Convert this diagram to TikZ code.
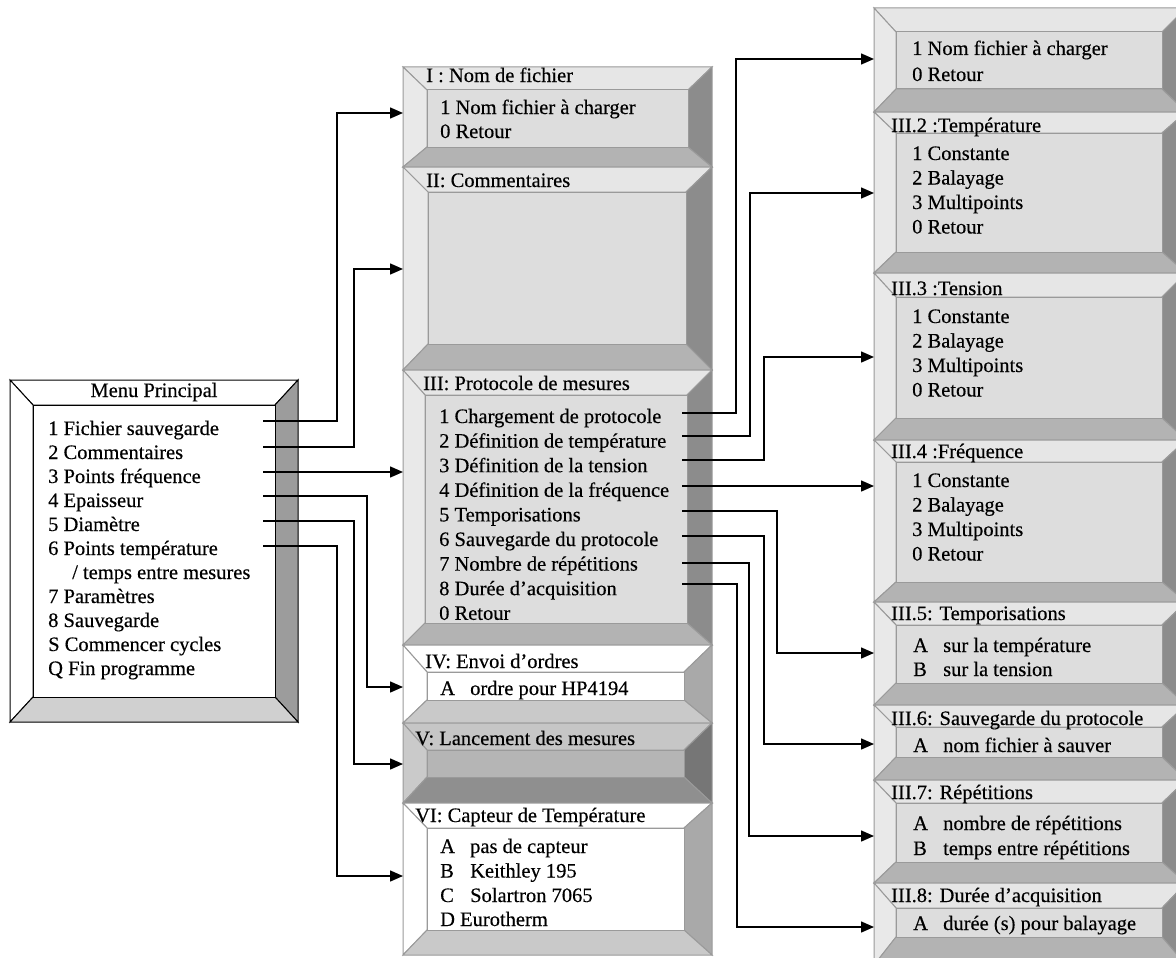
\documentclass[tikz,border=0pt]{standalone}
\usepackage{fontspec}
\setmainfont{Liberation Serif}[FakeBold=0.35]
\usetikzlibrary{arrows.meta}
\definecolor{gTop}{HTML}{E6E6E6}\definecolor{gLeft}{HTML}{E9E9E9}\definecolor{gIn}{HTML}{DDDDDD}
\definecolor{gRight}{HTML}{8C8C8C}\definecolor{gBot}{HTML}{B3B3B3}\definecolor{gLine}{HTML}{9A9A9A}
\definecolor{wTop}{HTML}{FFFFFF}\definecolor{wLeft}{HTML}{FFFFFF}\definecolor{wIn}{HTML}{FFFFFF}
\definecolor{wRight}{HTML}{A9A9A9}\definecolor{wBot}{HTML}{C9C9C9}\definecolor{wLine}{HTML}{9A9A9A}
\definecolor{dTop}{HTML}{C6C6C6}\definecolor{dLeft}{HTML}{CACACA}\definecolor{dIn}{HTML}{B5B5B5}
\definecolor{dRight}{HTML}{767676}\definecolor{dBot}{HTML}{8F8F8F}\definecolor{dLine}{HTML}{9A9A9A}
\definecolor{mTop}{HTML}{FFFFFF}\definecolor{mLeft}{HTML}{FFFFFF}\definecolor{mIn}{HTML}{FFFFFF}
\definecolor{mRight}{HTML}{9C9C9C}\definecolor{mBot}{HTML}{D0D0D0}\definecolor{mLine}{HTML}{000000}
% #1-#4 outer x1 y1 x2 y2, #5-#8 inner x1 y1 x2 y2, #9 colour set
\newcommand\bevbox[9]{%
  \filldraw[fill=#9Top,draw=#9Line,line width=1pt] (#1,#2)--(#3,#2)--(#7,#6)--(#5,#6)--cycle;
  \filldraw[fill=#9Left,draw=#9Line,line width=1pt] (#1,#2)--(#5,#6)--(#5,#8)--(#1,#4)--cycle;
  \filldraw[fill=#9Right,draw=#9Line,line width=1pt] (#3,#2)--(#3,#4)--(#7,#8)--(#7,#6)--cycle;
  \filldraw[fill=#9Bot,draw=#9Line,line width=1pt] (#1,#4)--(#5,#8)--(#7,#8)--(#3,#4)--cycle;
  \filldraw[fill=#9In,draw=#9Line,line width=1pt] (#5,#6) rectangle (#7,#8);
}
\newcommand\lab[1]{\makebox[30pt][l]{#1}}
\tikzset{
  txt/.style={font=\fontsize{20.5}{24}\selectfont, inner sep=0pt, anchor=base west, text=black},
  conn/.style={line width=1.5pt, -{Triangle[length=13pt,width=11pt]}},
}
\begin{document}
\begin{tikzpicture}[x=1pt,y=-1pt]
\clip (0,0) rectangle (1176,958);
\fill[white] (0,0) rectangle (1176,958);

% ---------- main menu ----------
\bevbox{10}{380}{298}{722}{33}{405}{275}{697}{m}
\node[txt, anchor=base] (mt) at (154,397) {Menu Principal};
\node[txt] (m1) at (48,435) {1 Fichier sauvegarde};
\node[txt] (m2) at (48,459) {2 Commentaires};
\node[txt] (m3) at (48,483) {3 Points fréquence};
\node[txt] (m4) at (48,507) {4 Epaisseur};
\node[txt] (m5) at (48,531) {5 Diamètre};
\node[txt] (m6) at (48,555) {6 Points température};
\node[txt] (m6b) at (72,579) {/ temps entre mesures};
\node[txt] (m7) at (48,603) {7 Paramètres};
\node[txt] (m8) at (48,627) {8 Sauvegarde};
\node[txt] (m9) at (48,651) {S Commencer cycles};
\node[txt] (m10) at (48,675) {Q Fin programme};

% ---------- column 2 ----------
\bevbox{403}{67}{712}{167}{427}{90}{688}{147}{g}
\node[txt] (It) at (426,82) {I : Nom de fichier};
\node[txt] (I1) at (440,114) {1 Nom fichier à charger};
\node[txt] (I2) at (440,138) {0 Retour};

\bevbox{403}{167}{712}{370}{428}{192}{686}{344}{g}
\node[txt] (IIt) at (426,187) {II: Commentaires};

\bevbox{403}{370}{712}{645}{425}{395}{687}{623}{g}
\node[txt] (IIIt) at (423,390) {III: Protocole de mesures};
\node[txt] (P1) at (439,423) {1 Chargement de protocole};
\node[txt] (P2) at (439,447.6) {2 Définition de température};
\node[txt] (P3) at (439,472.2) {3 Définition de la tension};
\node[txt] (P4) at (439,496.8) {4 Définition de la fréquence};
\node[txt] (P5) at (439,521.4) {5 Temporisations};
\node[txt] (P6) at (439,546) {6 Sauvegarde du protocole};
\node[txt] (P7) at (439,570.6) {7 Nombre de répétitions};
\node[txt] (P8) at (439,595.2) {8 Durée d’acquisition};
\node[txt] (P0) at (439,619.8) {0 Retour};

\bevbox{403}{645}{712}{723}{427}{672}{684}{700}{w}
\node[txt] (IVt) at (425,668) {IV: Envoi d’ordres};
\node[txt] (IV1) at (440,695) {\lab{A}ordre pour HP4194};

\bevbox{403}{723}{712}{803}{427}{750}{684}{777}{d}
\node[txt] (Vt) at (415,745) {V: Lancement des mesures};

\bevbox{403}{803}{712}{955}{427}{828}{684}{930}{w}
\node[txt] (VIt) at (415,822) {VI: Capteur de Température};
\node[txt] (VI1) at (440,853) {\lab{A}pas de capteur};
\node[txt] (VI2) at (440,877.5) {\lab{B}Keithley 195};
\node[txt] (VI3) at (440,902) {\lab{C}Solartron 7065};
\node[txt] (VI4) at (440,926) {D Eurotherm};

% ---------- column 3 ----------
\bevbox{874}{8}{1186}{112}{896}{32}{1162}{89}{g}
\node[txt] (a1) at (912,55) {1 Nom fichier à charger};
\node[txt] (a2) at (912,81) {0 Retour};

\bevbox{874}{112}{1186}{273}{896}{133}{1162}{252}{g}
\node[txt] (bt) at (891,132) {III.2 :Température};
\node[txt] (b1) at (912,160) {1 Constante};
\node[txt] (b2) at (912,184.5) {2 Balayage};
\node[txt] (b3) at (912,209) {3 Multipoints};
\node[txt] (b4) at (912,233.5) {0 Retour};

\bevbox{874}{273}{1186}{440}{896}{297}{1162}{418}{g}
\node[txt] (ct) at (891,295) {III.3 :Tension};
\node[txt] (c1) at (912,323) {1 Constante};
\node[txt] (c2) at (912,347.5) {2 Balayage};
\node[txt] (c3) at (912,372) {3 Multipoints};
\node[txt] (c4) at (912,396.5) {0 Retour};

\bevbox{874}{440}{1186}{602}{896}{462}{1162}{582}{g}
\node[txt] (dt) at (891,458) {III.4 :Fréquence};
\node[txt] (d1) at (912,487) {1 Constante};
\node[txt] (d2) at (912,511.5) {2 Balayage};
\node[txt] (d3) at (912,536) {3 Multipoints};
\node[txt] (d4) at (912,560.5) {0 Retour};

\bevbox{874}{602}{1186}{705}{896}{625}{1162}{683}{g}
\node[txt] (et) at (891,620) {III.5: Temporisations};
\node[txt] (e1) at (913,652) {\lab{A}sur la température};
\node[txt] (e2) at (913,676) {\lab{B}sur la tension};

\bevbox{874}{705}{1186}{780}{896}{727}{1162}{757}{g}
\node[txt] (ft) at (891,725) {III.6: Sauvegarde du protocole};
\node[txt] (f1) at (913,752) {\lab{A}nom fichier à sauver};

\bevbox{874}{780}{1186}{883}{896}{803}{1162}{862}{g}
\node[txt] (gt) at (891,799) {III.7: Répétitions};
\node[txt] (g1) at (913,830) {\lab{A}nombre de répétitions};
\node[txt] (g2) at (913,855) {\lab{B}temps entre répétitions};

\bevbox{874}{883}{1186}{965}{896}{908}{1162}{937}{g}
\node[txt] (ht) at (891,902) {III.8: Durée d’acquisition};
\node[txt] (h1) at (913,930) {\lab{A}durée (s) pour balayage};

% ---------- connector end points ----------
\coordinate (mo1) at (263,421);
\coordinate (mo2) at (263,447);
\coordinate (mo3) at (263,472);
\coordinate (mo4) at (263,496);
\coordinate (mo5) at (263,521);
\coordinate (mo6) at (263,546);
\coordinate (inI) at (403,113);
\coordinate (inII) at (403,269);
\coordinate (inIII) at (403,472);
\coordinate (inIV) at (403,687);
\coordinate (inV) at (403,764);
\coordinate (inVI) at (403,876);

\coordinate (po1) at (682,413);
\coordinate (po2) at (682,436);
\coordinate (po3) at (682,460);
\coordinate (po4) at (682,486);
\coordinate (po5) at (682,511);
\coordinate (po6) at (682,536);
\coordinate (po7) at (682,563);
\coordinate (po8) at (682,584);
\coordinate (in1) at (874,59);
\coordinate (in2) at (874,193);
\coordinate (in3) at (874,357);
\coordinate (in4) at (874,486);
\coordinate (in5) at (874,653);
\coordinate (in6) at (874,744);
\coordinate (in7) at (874,836);
\coordinate (in8) at (874,927);

% ---------- connectors ----------
\draw[conn] (mo1) -- ++(74,0) |- (inI);
\draw[conn] (mo2) -- ++(91,0) |- (inII);
\draw[conn] (mo3) -- (inIII);
\draw[conn] (mo4) -- ++(104,0) |- (inIV);
\draw[conn] (mo5) -- ++(91,0) |- (inV);
\draw[conn] (mo6) -- ++(74,0) |- (inVI);

\draw[conn] (po1) -- ++(54,0) |- (in1);
\draw[conn] (po2) -- ++(68,0) |- (in2);
\draw[conn] (po3) -- ++(82,0) |- (in3);
\draw[conn] (po4) -- (in4);
\draw[conn] (po5) -- ++(95,0) |- (in5);
\draw[conn] (po6) -- ++(82,0) |- (in6);
\draw[conn] (po7) -- ++(67,0) |- (in7);
\draw[conn] (po8) -- ++(55,0) |- (in8);
\end{tikzpicture}
\end{document}
